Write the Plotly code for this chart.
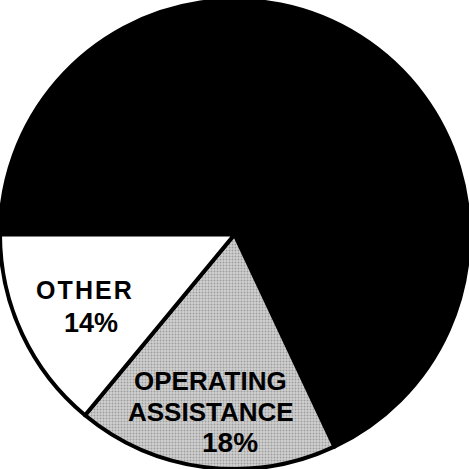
import plotly.graph_objects as go

# shares of the total, in percent
labels = ["FEDERAL", "OPERATING ASSISTANCE", "OTHER"]
values = [68, 18, 14]
colors = ["#000000", "#d0d0d0", "#ffffff"]

fig = go.Figure(go.Pie(
    labels=labels,
    values=values,
    sort=False,
    direction="clockwise",
    rotation=270,
    textinfo="none",
    hoverinfo="label+percent",
    marker=dict(
        colors=colors,
        line=dict(color="#000000", width=4),
        pattern=dict(shape=["", ".", ""], size=3, solidity=0.35,
                     fgcolor="#6a6a6a", fillmode="overlay"),
    ),
    domain=dict(x=[0, 1], y=[0, 1]),
    showlegend=False,
))

font = dict(family="Liberation Sans, Arial, sans-serif", color="#000000")

def label(text, x, y, size):
    fig.add_annotation(text=f"<b>{text}</b>", x=x / 469, y=1 - y / 469,
                       xref="paper", yref="paper", showarrow=False,
                       xanchor="center", yanchor="middle",
                       font=dict(size=size, **font))

label("O\u200aT\u200aH\u200aE\u200aR", 84, 290, 25)
label("14%", 91, 323, 27)
label("OPERATING", 210, 381, 26)
label("ASSISTANCE", 211, 412, 26)
label("18%", 230, 442, 28)

fig.update_layout(
    width=469, height=469,
    margin=dict(l=0, r=0, t=0, b=0),
    paper_bgcolor="#ffffff",
)

# drop the page's default body margin so the figure sits at the corner
fig.write_html("out.html", config={"displayModeBar": False},
               post_script="document.body.style.margin='0';")
